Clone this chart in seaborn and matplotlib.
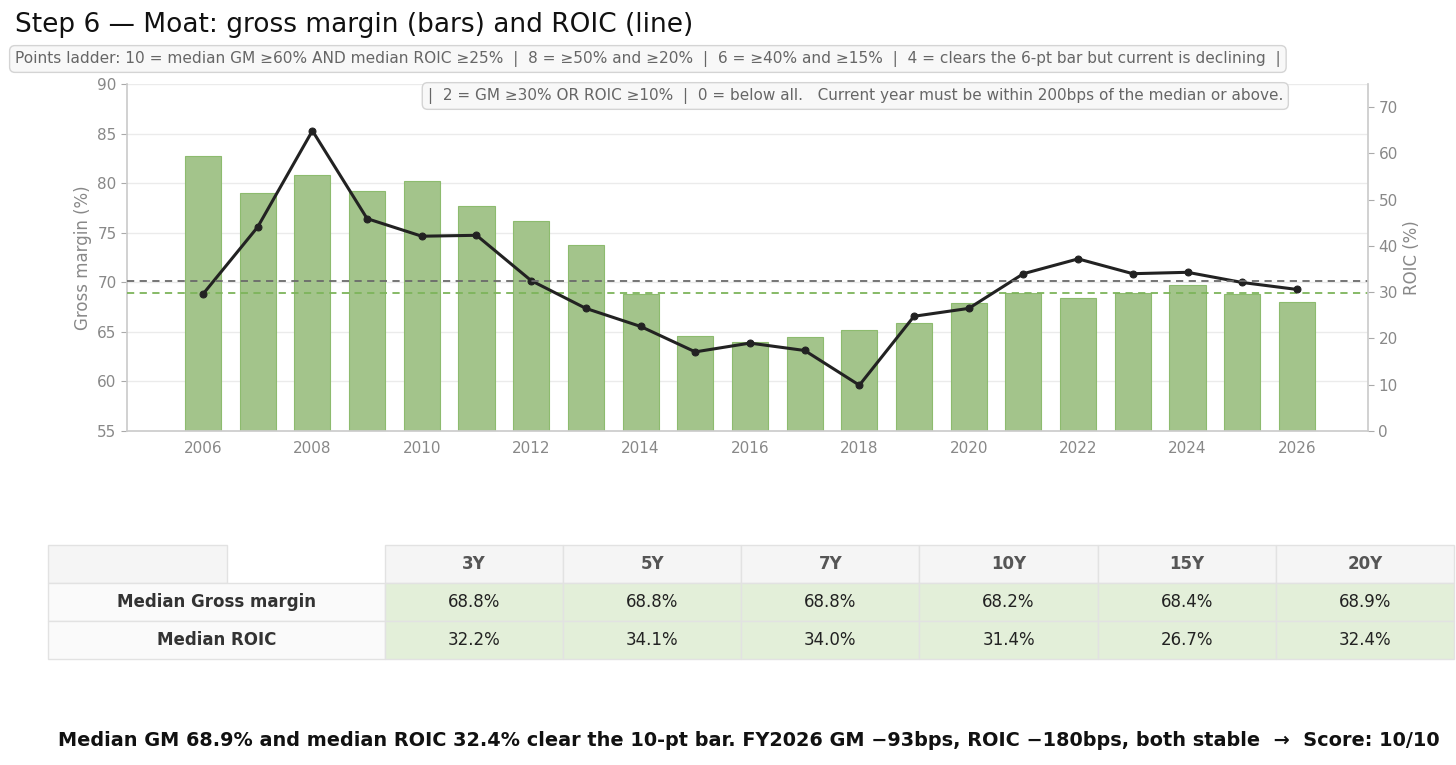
import pandas as pd
import matplotlib.pyplot as plt
import seaborn as sns

# Data
years = list(range(2006, 2027))
gross_margin = [82.7, 79.0, 80.8, 79.2, 80.2, 77.7, 76.2, 73.8, 68.8, 64.6,
                64.0, 64.5, 65.2, 65.9, 67.9, 68.9, 68.4, 68.9, 69.7, 68.8, 68.0]
roic = [29.6, 44.1, 64.9, 45.9, 42.1, 42.3, 32.5, 26.5, 22.6, 17.1,
        19.0, 17.4, 9.9, 24.8, 26.5, 34.0, 37.2, 34.0, 34.3, 32.1, 30.6]
median_gm = 68.9
median_roic = 32.4

# Table of medians per lookback window
periods = ['3Y', '5Y', '7Y', '10Y', '15Y', '20Y']
gm_medians = [68.8, 68.8, 68.8, 68.2, 68.4, 68.9]
roic_medians = [32.2, 34.1, 34.0, 31.4, 26.7, 32.4]

title = 'Step 6 \u2014 Moat: gross margin (bars) and ROIC (line)'
ladder_1 = ('Points ladder: 10 = median GM \u226560% AND median ROIC \u226525%  |  '
            '8 = \u226550% and \u226520%  |  6 = \u226540% and \u226515%  |  '
            '4 = clears the 6-pt bar but current is declining  |')
ladder_2 = ('|  2 = GM \u226530% OR ROIC \u226510%  |  0 = below all.   '
            'Current year must be within 200bps of the median or above.')
verdict = ('Median GM 68.9% and median ROIC 32.4% clear the 10-pt bar. '
           'FY2026 GM \u221293bps, ROIC \u2212180bps, both stable  \u2192  Score: 10/10')

df = pd.DataFrame({'year': years, 'gm': gross_margin, 'roic': roic})

sns.set_theme(style='white')
plt.rcParams['font.family'] = ['DejaVu Sans']

W, H = 1456, 765
fig = plt.figure(figsize=(W / 100, H / 100), dpi=100)

# main chart
ax = fig.add_axes([127 / W, 1 - 431 / H, (1368 - 127) / W, (431 - 84) / H])
sns.barplot(data=df, x='year', y='gm', native_scale=True, width=0.66,
            color='#a3c48b', saturation=1, edgecolor='#8dbb6e', linewidth=0.8,
            ax=ax, zorder=2)
ax.axhline(median_gm, color='#7db45b', ls=(0, (4, 3)), lw=1.3, zorder=3)
ax.set_ylim(55, 90)
ax.set_xlim(2004.61, 2027.3)
ax.set_xticks(range(2006, 2027, 2))
ax.set_xticklabels([str(y) for y in range(2006, 2027, 2)])
ax.set_yticks(range(55, 91, 5))
ax.yaxis.grid(True, color='#ebebeb', lw=1, zorder=0)
ax.set_axisbelow(True)
ax.set_xlabel('')
ax.set_ylabel('Gross margin (%)', color='#888888', fontsize=12)

ax2 = ax.twinx()
sns.lineplot(data=df, x='year', y='roic', ax=ax2, color='#222222', lw=2.2,
             marker='o', markersize=5, markeredgecolor='#222222')
ax2.axhline(median_roic, color='#6a6a6a', ls=(0, (4, 3)), lw=1.3)
ax2.set_ylim(0, 75)
ax2.set_yticks(range(0, 71, 10))
ax2.grid(False)
ax2.set_xlabel('')
ax2.set_ylabel('ROIC (%)', color='#888888', fontsize=12)
ax.set_xlim(2004.61, 2027.3)

for a in (ax, ax2):
    a.tick_params(length=4, width=0.8, color='#aaaaaa', labelcolor='#888888',
                  labelsize=11)
    for s in a.spines.values():
        s.set_color('#cccccc')
    a.spines['top'].set_visible(False)
ax.spines['right'].set_visible(False)
ax2.spines['left'].set_visible(False)
ax2.spines['bottom'].set_visible(False)

# title and ladder notes
fig.text(15 / W, 1 - 25 / H, title, fontsize=19, color='#111111', va='center')
box = dict(boxstyle='round,pad=0.35', fc='#f8f8f8', ec='#d4d4d4', lw=1)
fig.text(15 / W, 1 - 59 / H, ladder_1, fontsize=11.1, color='#666666',
         va='center', bbox=box)
fig.text(1283 / W, 1 - 96 / H, ladder_2, fontsize=11, color='#666666',
         va='center', ha='right', bbox=box, zorder=10)

# table of medians
tax = fig.add_axes([48 / W, 1 - 659 / H, 1406 / W, 114 / H])
tax.axis('off')
cell_text = [['Median Gross margin'] + [f'{v:.1f}%' for v in gm_medians],
             ['Median ROIC'] + [f'{v:.1f}%' for v in roic_medians]]
table = tax.table(cellText=cell_text, colLabels=[''] + periods,
                  cellLoc='center', bbox=[0, 0, 1, 1])
table.auto_set_font_size(False)
col_w = [337 / 1406] + [178.2 / 1406] * 6
for (r, c), cell in table.get_celld().items():
    cell.set_width(col_w[c])
    cell.set_edgecolor('#e2e2e2')
    cell.set_linewidth(1)
    txt = cell.get_text()
    if r == 0:
        cell.set_facecolor('#f5f5f5')
        txt.set_fontweight('bold')
        txt.set_color('#555555')
        txt.set_fontsize(12)
    elif c == 0:
        cell.set_facecolor('#fafafa')
        txt.set_fontweight('bold')
        txt.set_color('#333333')
        txt.set_fontsize(12)
    else:
        cell.set_facecolor('#e3efd9')
        txt.set_color('#222222')
        txt.set_fontsize(12)
table[0, 0].set_width(179 / 1406)

# verdict line
fig.text(58 / W, 1 - 741 / H, verdict, fontsize=13.9, fontweight='bold',
         color='#111111', va='center')

fig.savefig('out.png', dpi=100)
